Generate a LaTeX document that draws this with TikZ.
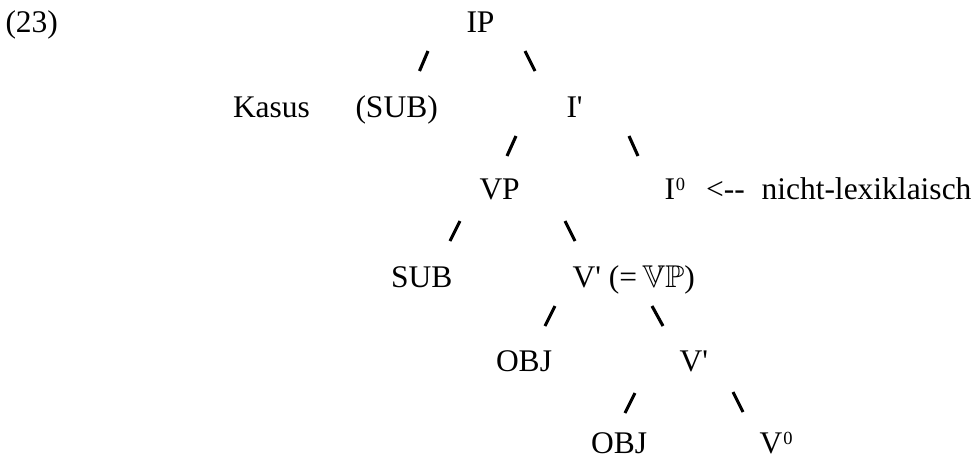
\documentclass[tikz,border=0pt]{standalone}
\usepackage{amssymb}
\usepackage{fontspec}
\setmainfont{Liberation Serif}
\newcommand{\supzero}{\kern1pt\raisebox{9pt}{\fontsize{18.5}{18.5}\selectfont 0}}
\begin{document}
\begin{tikzpicture}[x=1pt,y=-1pt,
  lbl/.style={anchor=base west, inner sep=0pt, outer sep=0pt, font=\fontsize{31.5}{36}\selectfont},
  slash/.style={line width=3.1pt}]
\useasboundingbox (0,0) rectangle (977,459);
% row 1
\node[lbl] (ex) at (5.5,32.5) {(23)};
\node[lbl] (ip) at (466.5,32.5) {IP};
% row 2
\node[lbl] (kasus) at (233,117.5) {Kasus};
\node[lbl] (subp) at (355.5,117.5) {(SUB)};
\node[lbl] (ibar) at (566.5,117.5) {I\textquotesingle};
% row 3
\node[lbl] (vp) at (479.5,199.5) {VP};
\node[lbl] (izero) at (664.5,199.5) {I\supzero};
\node[lbl] (arrow) at (706,199.5) {<\mbox{-}\mbox{-}};
\node[lbl] (nlex) at (761.5,199.5) {nicht-lexiklaisch};
% row 4
\node[lbl] (sub) at (391,287) {SUB};
\node[lbl] (vbar1) at (572.5,287) {V\textquotesingle\ (=\,$\mathbb{VP}$)};
% row 5
\node[lbl] (obj1) at (496,371) {OBJ};
\node[lbl] (vbar2) at (679.5,371) {V\textquotesingle};
% row 6
\node[lbl] (obj2) at (591,453) {OBJ};
\node[lbl] (vzero) at (759.5,453) {V\supzero};
% slashes
\coordinate (s1a) at (419.5,71); \coordinate (s1b) at (428,51);
\coordinate (s2a) at (525,51);   \coordinate (s2b) at (535,71);
\coordinate (s3a) at (507,156);  \coordinate (s3b) at (516,136);
\coordinate (s4a) at (629,136);  \coordinate (s4b) at (638,156);
\coordinate (s5a) at (450,241);  \coordinate (s5b) at (460,221);
\coordinate (s6a) at (565,221);  \coordinate (s6b) at (575,241);
\coordinate (s7a) at (545,326);  \coordinate (s7b) at (555,306);
\coordinate (s8a) at (652,306);  \coordinate (s8b) at (663,326);
\coordinate (s9a) at (625,413);  \coordinate (s9b) at (635,393);
\coordinate (s10a) at (733,392); \coordinate (s10b) at (743,412);
\foreach \i in {1,...,10} {\draw[slash] (s\i a) -- (s\i b);}
\end{tikzpicture}
\end{document}
